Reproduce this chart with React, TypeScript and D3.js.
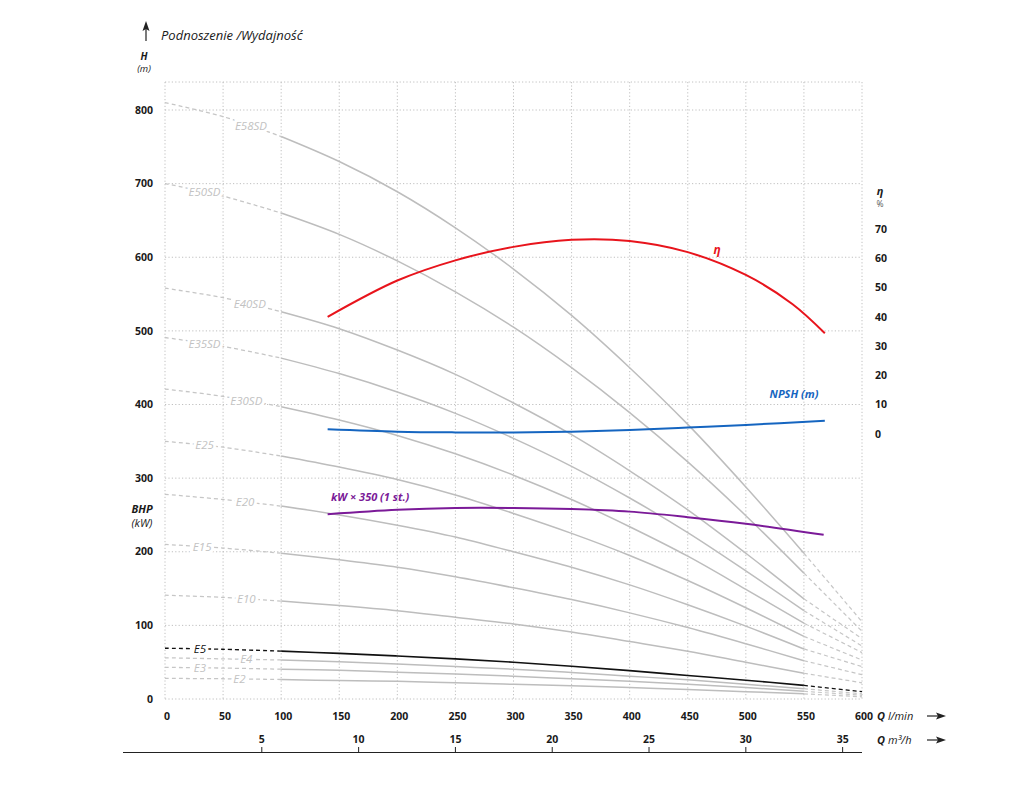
import * as d3 from "d3";

// flow points, l/min
const Q_PTS = [0, 50, 100, 150, 200, 250, 300, 350, 400, 450, 500, 550, 600];

// head curves H (m) per pump model
const E58SD = [810, 791, 764, 730, 689, 640, 584, 521, 450, 373, 288, 198, 105];
const E50SD = [700, 683, 660, 631, 595, 553, 505, 450, 389, 322, 249, 171, 92];
const E40SD = [558, 545, 526, 503, 474, 441, 402, 359, 310, 257, 198, 136, 82];
const E35SD = [491, 479, 463, 442, 417, 388, 354, 316, 273, 226, 174, 120, 72];
const E30SD = [421, 411, 397, 379, 358, 333, 304, 271, 234, 194, 149, 103, 63];
const E25 = [350, 342, 330, 315, 298, 277, 252, 225, 195, 161, 124, 85, 53];
const E20 = [278, 271, 262, 250, 236, 220, 200, 179, 155, 128, 99, 68, 44];
const E15 = [210, 205, 198, 189, 179, 166, 151, 135, 117, 97, 75, 52, 33];
const E10 = [141, 138, 133, 127, 120, 111, 102, 91, 78, 65, 50, 35, 22];
const E5 = [69, 67.5, 65, 62, 58.5, 54.5, 50, 44.5, 38.5, 32, 25.5, 18.5, 10];
const E4 = [56, 54.5, 53, 50.5, 47.5, 44, 40.5, 36, 31, 26, 20, 14, 7];
const E3 = [43, 42, 40.5, 39, 36.5, 34, 31, 27.5, 24, 20, 15.5, 10.5, 5];
const E2 = [28, 27.5, 26.5, 25, 24, 22, 20, 18, 15.5, 13, 10, 7, 3];

const CURVE_NAMES = ["E58SD", "E50SD", "E40SD", "E35SD", "E30SD", "E25", "E20", "E15", "E10", "E5", "E4", "E3", "E2"];
const CURVE_VALUES = [E58SD, E50SD, E40SD, E35SD, E30SD, E25, E20, E15, E10, E5, E4, E3, E2];
const LABEL_Q = [74, 34, 73, 34, 70, 34, 69, 32, 70, 30, 70, 30, 64];

// efficiency (%), right axis
const ETA_Q = [140, 200, 250, 300, 350, 400, 450, 500, 540, 568];
const ETA = [40, 52.4, 59.3, 63.9, 66.3, 65.9, 62.1, 54.3, 44.4, 34.4];

// NPSH (m), right axis
const NPSH_Q = [140, 200, 250, 300, 350, 400, 450, 500, 568];
const NPSH = [1.6, 0.8, 0.55, 0.5, 0.8, 1.4, 2.2, 3.1, 4.5];

// power kW x 350, left axis
const KW_Q = [140, 200, 250, 300, 350, 400, 450, 500, 567];
const KW = [251, 257, 259.5, 259.5, 258, 254.5, 247, 238, 223];

const H_TICKS = [0, 100, 200, 300, 400, 500, 600, 700, 800];
const Q_TICKS = [0, 50, 100, 150, 200, 250, 300, 350, 400, 450, 500, 550, 600];
const M3H_TICKS = [5, 10, 15, 20, 25, 30, 35];
const ETA_TICKS = [0, 10, 20, 30, 40, 50, 60, 70];
const H_TOP = 838;

const FONT = "'Open Sans', 'Noto Sans', sans-serif";
const GRID = "#b9b9b9";
const CURVE_GRAY = "#bdbdbd";
const LABEL_GRAY = "#c2c2c2";

export default function App() {
  const x = d3.scaleLinear().domain([0, 600]).range([165, 862]);
  const xM3 = d3.scaleLinear().domain([0, 36]).range([165, 862]);
  const y = d3.scaleLinear().domain([0, 800]).range([699, 110]);
  const yR = d3.scaleLinear().domain([0, 70]).range([434, 229]);

  const line = d3
    .line<[number, number]>()
    .x((d) => x(d[0]))
    .y((d) => y(d[1]))
    .curve(d3.curveCatmullRom.alpha(0.5));
  const lineR = d3
    .line<[number, number]>()
    .x((d) => x(d[0]))
    .y((d) => yR(d[1]))
    .curve(d3.curveCatmullRom.alpha(0.5));

  const interp = (vals: number[], q: number) => {
    const i = Math.min(Q_PTS.length - 2, Math.floor(q / 50));
    const t = (q - Q_PTS[i]) / 50;
    return vals[i] + (vals[i + 1] - vals[i]) * t;
  };

  const arrowRight = (x1: number, yy: number) => (
    <g>
      <line x1={x1} x2={x1 + 12} y1={yy} y2={yy} stroke="#222" strokeWidth={1.2} />
      <path d={`M${x1 + 19},${yy} L${x1 + 9},${yy - 3.5} L${x1 + 11},${yy} L${x1 + 9},${yy + 3.5} Z`} fill="#222" />
    </g>
  );

  return (
    <svg
      width={1024}
      height={786}
      style={{ position: "absolute", left: 0, top: 0, background: "#fff" }}
      fontFamily={FONT}
    >
      {/* grid */}
      <g stroke={GRID} strokeWidth={0.9} strokeDasharray="1.2,2.2">
        {Q_TICKS.map((q) => (
          <line key={"v" + q} x1={x(q)} x2={x(q)} y1={y(H_TOP)} y2={y(0)} />
        ))}
        {H_TICKS.map((h) => (
          <line key={"h" + h} x1={x(0)} x2={x(600)} y1={y(h)} y2={y(h)} />
        ))}
        <line x1={x(0)} x2={x(600)} y1={y(H_TOP)} y2={y(H_TOP)} />
      </g>

      {/* head curves: dashed outside the 100–550 l/min working range */}
      {CURVE_VALUES.map((vals, i) => {
        const pts = Q_PTS.map((q, j) => [q, vals[j]] as [number, number]);
        const isBlack = CURVE_NAMES[i] === "E5";
        const col = isBlack ? "#111" : CURVE_GRAY;
        const dashCol = isBlack ? "#111" : "#c6c6c6";
        const sw = isBlack ? 1.6 : 1.5;
        return (
          <g key={CURVE_NAMES[i]} fill="none">
            <path d={line(pts.filter((p) => p[0] <= 100)) ?? ""} stroke={dashCol} strokeWidth={sw * 0.85} strokeDasharray="4,3" />
            <path d={line(pts.filter((p) => p[0] >= 100 && p[0] <= 550)) ?? ""} stroke={col} strokeWidth={sw} />
            <path d={line(pts.filter((p) => p[0] >= 550)) ?? ""} stroke={dashCol} strokeWidth={sw * 0.8} strokeDasharray="4,3" />
          </g>
        );
      })}
      {CURVE_VALUES.map((vals, i) => {
        const isBlack = CURVE_NAMES[i] === "E5";
        return (
          <text
            key={"l" + CURVE_NAMES[i]}
            x={x(LABEL_Q[i])}
            y={y(interp(vals, LABEL_Q[i]))}
            dy="0.35em"
            textAnchor="middle"
            fontStyle="italic"
            fontSize={11.5}
            fill={isBlack ? "#111" : LABEL_GRAY}
            stroke="#fff"
            strokeWidth={6}
            paintOrder="stroke"
          >
            {CURVE_NAMES[i]}
          </text>
        );
      })}

      {/* efficiency, NPSH, power */}
      <path
        d={lineR(ETA_Q.map((q, i) => [q, ETA[i]] as [number, number])) ?? ""}
        fill="none"
        stroke="#e8141c"
        strokeWidth={2}
      />
      <path
        d={lineR(NPSH_Q.map((q, i) => [q, NPSH[i]] as [number, number])) ?? ""}
        fill="none"
        stroke="#1565c0"
        strokeWidth={2}
      />
      <path
        d={line(KW_Q.map((q, i) => [q, KW[i]] as [number, number])) ?? ""}
        fill="none"
        stroke="#7b1a98"
        strokeWidth={2}
      />
      <text x={717} y={254} textAnchor="middle" fontSize={12} fontWeight={700} fontStyle="italic" fill="#e8141c">
        η
      </text>
      <text x={794} y={398} textAnchor="middle" fontSize={11} fontWeight={700} fontStyle="italic" fill="#1565c0">
        NPSH (m)
      </text>
      <text x={331} y={501} fontSize={11} fontWeight={700} fontStyle="italic" fill="#7b1a98">
        kW × 350 (1 st.)
      </text>

      {/* left axis */}
      {H_TICKS.map((h) => (
        <text key={"ht" + h} x={153} y={y(h)} dy="0.35em" textAnchor="end" fontSize={10.5} fontWeight={700} fill="#1a1a1a">
          {h}
        </text>
      ))}
      <line x1={146} x2={146} y1={41} y2={28} stroke="#222" strokeWidth={1.2} />
      <path d="M146,21 L142.5,31 L146,29 L149.5,31 Z" fill="#222" />
      <text x={161} y={40} fontSize={13} fontStyle="italic" fill="#1a1a1a">
        Podnoszenie /Wydajność
      </text>
      <text x={144} y={60} textAnchor="middle" fontSize={10} fontWeight={700} fontStyle="italic" fill="#1a1a1a">
        H
      </text>
      <text x={144} y={72} textAnchor="middle" fontSize={9.5} fontStyle="italic" fill="#1a1a1a">
        (m)
      </text>
      <text x={142} y={513} textAnchor="middle" fontSize={11} fontWeight={700} fontStyle="italic" fill="#1a1a1a">
        BHP
      </text>
      <text x={142} y={527} textAnchor="middle" fontSize={11} fontStyle="italic" fill="#1a1a1a">
        (kW)
      </text>

      {/* right axis */}
      <text x={880} y={195} textAnchor="middle" fontSize={11} fontWeight={700} fontStyle="italic" fill="#1a1a1a">
        η
      </text>
      <text x={880} y={207} textAnchor="middle" fontSize={8.5} fill="#555">
        %
      </text>
      {ETA_TICKS.map((e) => (
        <text key={"et" + e} x={875} y={yR(e)} dy="0.35em" fontSize={10.5} fontWeight={700} fill="#1a1a1a">
          {e}
        </text>
      ))}

      {/* bottom axes */}
      {Q_TICKS.map((q) => (
        <text key={"qt" + q} x={x(q) + 2} y={720} textAnchor="middle" fontSize={10.5} fontWeight={700} fill="#1a1a1a">
          {q}
        </text>
      ))}
      <text x={877} y={720} fontSize={11} fill="#1a1a1a">
        <tspan fontWeight={700} fontStyle="italic">Q</tspan>
        <tspan fontStyle="italic"> l/min</tspan>
      </text>
      {arrowRight(927, 716)}

      <line x1={123} x2={xM3(36)} y1={752.5} y2={752.5} stroke="#222" strokeWidth={1.2} />
      {M3H_TICKS.map((m) => (
        <g key={"mt" + m}>
          <line x1={xM3(m)} x2={xM3(m)} y1={747} y2={752.5} stroke="#222" strokeWidth={1} />
          <text x={xM3(m)} y={743} textAnchor="middle" fontSize={10.5} fontWeight={700} fill="#1a1a1a">
            {m}
          </text>
        </g>
      ))}
      <text x={877} y={744} fontSize={11} fill="#1a1a1a">
        <tspan fontWeight={700} fontStyle="italic">Q</tspan>
        <tspan fontStyle="italic"> m³/h</tspan>
      </text>
      {arrowRight(927, 740)}
    </svg>
  );
}
